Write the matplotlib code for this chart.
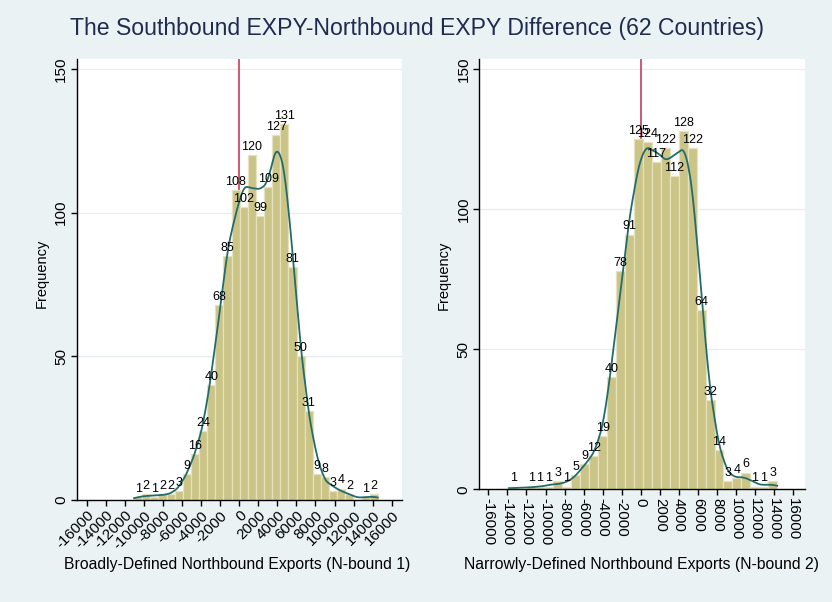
import numpy as np
import matplotlib
matplotlib.use("Agg")
import matplotlib.pyplot as plt

plt.rcParams['font.family'] = ['Liberation Sans', 'DejaVu Sans']
plt.rcParams['axes.unicode_minus'] = False

# ---- data -----------------------------------------------------------------
title = "The Southbound EXPY-Northbound EXPY Difference (62 Countries)"

# N-bound 1 (broadly defined): 30 bins between the sample min and max
nb1_min, nb1_max = -11050.0, 14540.0
nb1_counts = [1, 2, 1, 2, 2, 3, 9, 16, 24, 40, 68, 85, 108, 102, 120,
              99, 109, 127, 131, 81, 50, 31, 9, 8, 3, 4, 2, 0, 1, 2]
nb1_xlabel = "Broadly-Defined Northbound Exports (N-bound 1)"

# N-bound 2 (narrowly defined)
nb2_min, nb2_max = -13860.0, 14310.0
nb2_counts = [1, 0, 1, 1, 1, 3, 1, 5, 9, 12, 19, 40, 78, 91, 125,
              124, 117, 122, 112, 128, 122, 64, 32, 14, 3, 4, 6, 1, 1, 3]
nb2_xlabel = "Narrowly-Defined Northbound Exports (N-bound 2)"

x_ticks = list(range(-16000, 16001, 2000))
y_ticks = [0, 50, 100, 150]
y_label = "Frequency"

# ---- style ----------------------------------------------------------------
BG = '#eaf2f3'
BAR = '#cbc487'
BAR_EDGE = '#e6e2bd'
KDE_COL = '#236c6c'
REF_COL = '#c83c5c'
GRID = '#e3eef0'
TITLE_COL = '#1f2b50'

S5 = np.sqrt(5.0)


def epan_cdf(z):
    """CDF of the unit-variance Epanechnikov kernel."""
    z = np.clip(z, -S5, S5)
    return 0.5 + 0.75 / S5 * (z - z ** 3 / 15.0)


def binned_kde(edges, counts, npts=300):
    """Kernel density of the binned sample (values spread evenly within
    each bin), scaled to bar frequency."""
    centers = (edges[:-1] + edges[1:]) / 2
    w = np.asarray(counts, float)
    n = w.sum()
    bw = edges[1] - edges[0]
    sample = np.repeat(centers, w.astype(int))
    sd = np.sqrt(sample.var(ddof=1) + bw ** 2 / 12.0)
    iqr = np.percentile(sample, 75) - np.percentile(sample, 25)
    h = 0.9 * min(sd, iqr / 1.349) * n ** (-0.2)
    grid = np.linspace(edges[0], edges[-1], npts)
    a = (grid[:, None] - edges[None, :-1]) / h
    b = (grid[:, None] - edges[None, 1:]) / h
    dens = ((epan_cdf(a) - epan_cdf(b)) * w[None, :]).sum(axis=1) / (n * bw)
    return grid, dens * n * bw


def draw_panel(ax, lo, hi, counts, xlim, ylim, xrot):
    counts = np.asarray(counts)
    edges = np.linspace(lo, hi, len(counts) + 1)
    bw = edges[1] - edges[0]
    ax.set_facecolor('white')
    for yv in y_ticks[1:]:
        ax.axhline(yv, color=GRID, lw=1.0, zorder=0)
    ax.axvline(0, color=REF_COL, lw=1.2, zorder=1)
    ax.bar(edges[:-1], counts, width=bw, align='edge', color=BAR,
           edgecolor=BAR_EDGE, linewidth=0.9, zorder=2)
    gx, gy = binned_kde(edges, counts)
    ax.plot(gx, gy, color=KDE_COL, lw=1.3, zorder=3)
    centers = (edges[:-1] + edges[1:]) / 2
    for c, v in zip(centers, counts):
        if v > 0:
            ax.annotate(str(v), (c, v), xytext=(0, 1.5), textcoords='offset points',
                        ha='center', va='bottom', fontsize=9, zorder=4)
    ax.set_xlim(*xlim)
    ax.set_ylim(*ylim)
    ax.set_xticks(x_ticks)
    if xrot == 45:
        ax.set_xticklabels([str(t) for t in x_ticks], rotation=45, ha='right',
                           va='top', rotation_mode='anchor', fontsize=10.8)
    else:
        ax.set_xticklabels([str(t) for t in x_ticks], rotation=-90, ha='center',
                           va='top', fontsize=10.8)
    ax.set_yticks(y_ticks)
    ax.set_yticklabels([str(t) for t in y_ticks], rotation=90, va='center',
                       fontsize=11)
    for side in ('top', 'right'):
        ax.spines[side].set_visible(False)
    for side in ('left', 'bottom'):
        ax.spines[side].set_linewidth(1.0)
        ax.spines[side].set_color('black')
    ax.tick_params(length=4, width=1.0, pad=2)


fig = plt.figure(figsize=(8.32, 6.02), dpi=100, facecolor=BG)

ax1 = fig.add_axes([76.7 / 832, 102 / 602, 325 / 832, 440.7 / 602])
draw_panel(ax1, nb1_min, nb1_max, nb1_counts, (-17070, 17050), (0, 153.4), 45)

ax2 = fig.add_axes([479 / 832, 112.7 / 602, 326 / 832, 430 / 602])
draw_panel(ax2, nb2_min, nb2_max, nb2_counts, (-16980, 17230), (0, 153.6), -90)

fig.text(417 / 832, 1 - 28 / 602, title, ha='center', va='center', fontsize=16.6,
         color=TITLE_COL)
fig.text(237 / 832, 1 - 565 / 602, nb1_xlabel, ha='center', va='center', fontsize=11.3)
fig.text(641 / 832, 1 - 565 / 602, nb2_xlabel, ha='center', va='center', fontsize=11.3)
fig.text(41.7 / 832, 1 - 273 / 602, y_label, ha='center', va='center',
         rotation=90, fontsize=10.5)
fig.text(444 / 832, 1 - 275 / 602, y_label, ha='center', va='center',
         rotation=90, fontsize=10.5)

fig.savefig('out.png', dpi=100, facecolor=BG)
